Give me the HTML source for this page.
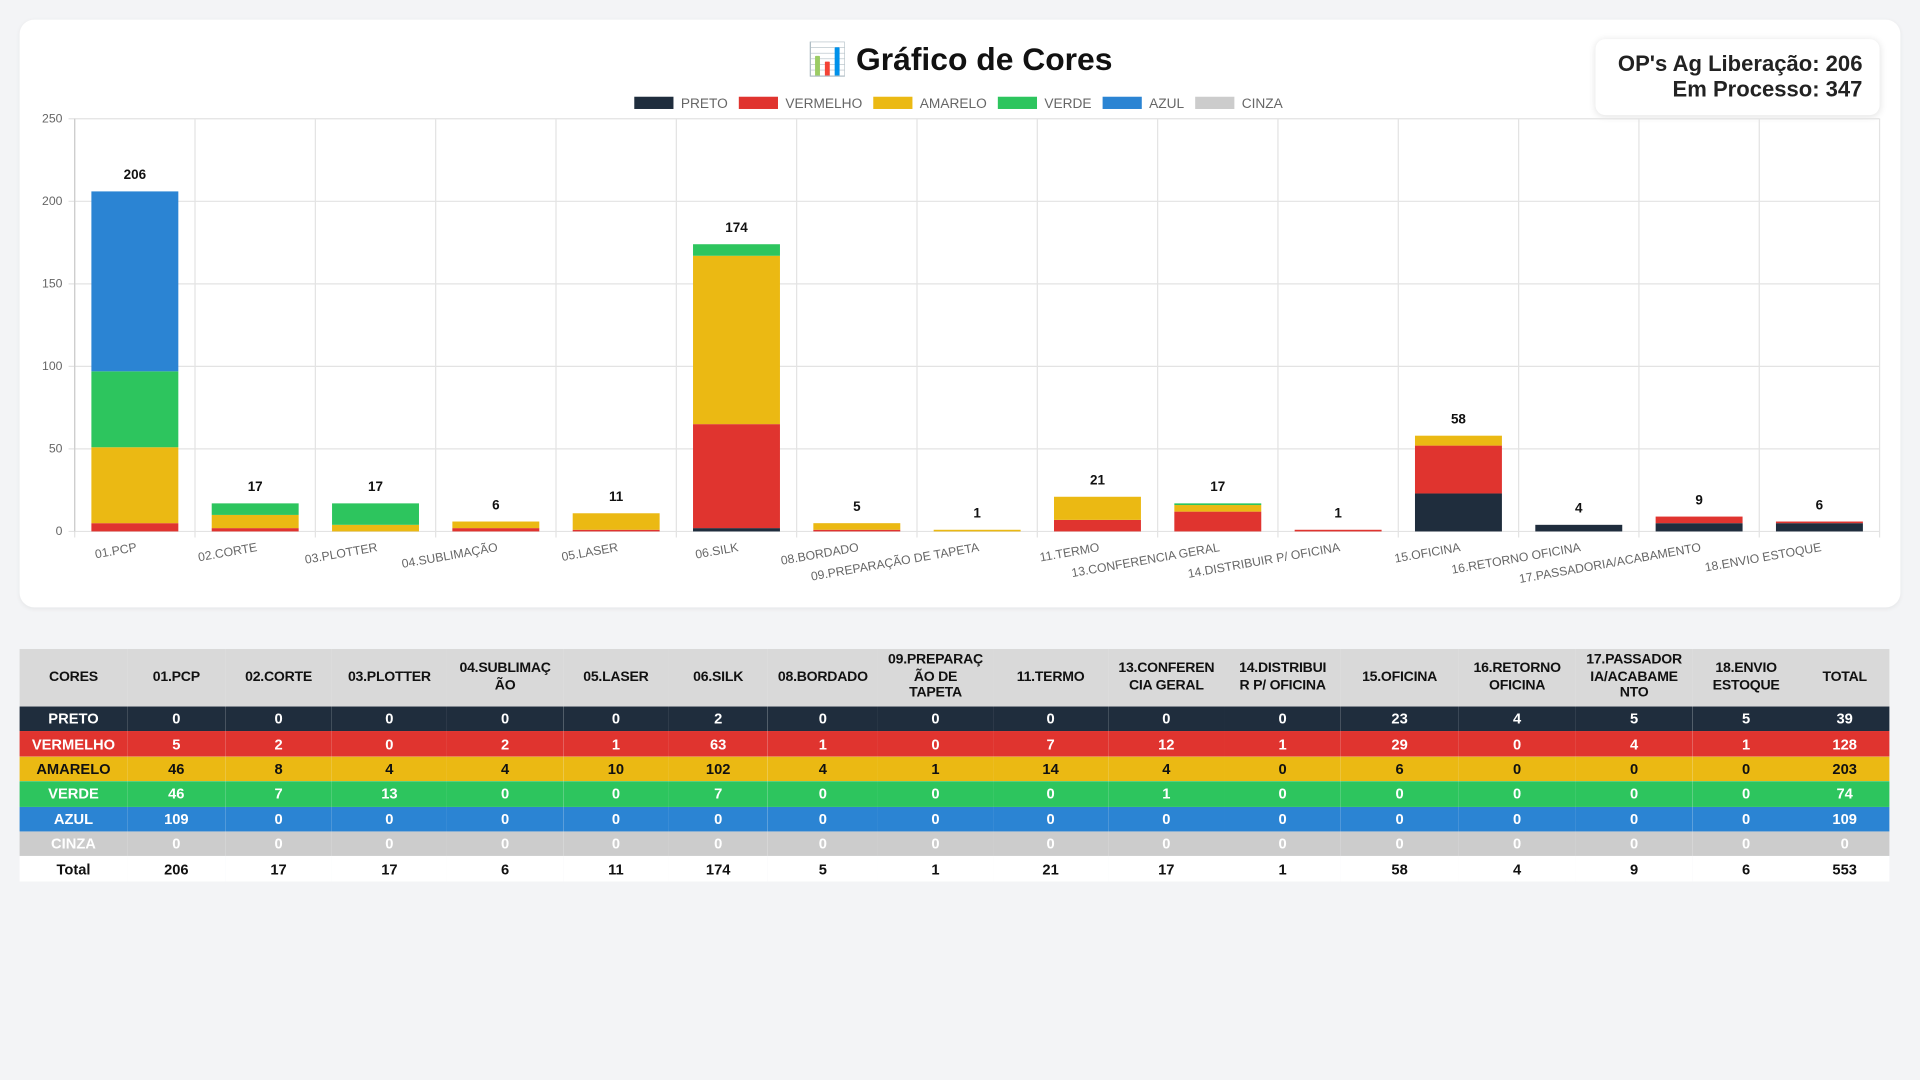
<!DOCTYPE html>
<html><head><meta charset="utf-8">
<style>
html,body{margin:0;padding:0;background:#f3f4f6;width:1920px;height:1080px;overflow:hidden;font-family:"Liberation Sans",sans-serif}
#root{position:absolute;left:0;top:0;width:1568px;height:882px;transform:scale(1.22449);transform-origin:0 0}
.card{position:absolute;left:16px;top:16px;width:1536px;height:480px;background:#fff;border-radius:12px;box-shadow:0 1px 4px rgba(0,0,0,0.06)}
.info{position:absolute;left:1303px;top:32px;width:218px;height:62px;padding-right:14px;background:#fff;border-radius:8px;box-shadow:0 1px 6px rgba(0,0,0,0.12);text-align:right;font-weight:bold;font-size:18px;line-height:21px;color:#222;box-sizing:content-box}
.info div:first-child{margin-top:10px}
table{position:absolute;left:16px;top:530px;width:1527px;border-collapse:collapse;table-layout:fixed;font-size:12px;font-weight:bold;text-align:center}
th{background:#d9d9d9;height:47px;padding:0;color:#111;font-size:11.5px;line-height:13.5px;white-space:nowrap;letter-spacing:-0.2px}
td{height:20.4px;padding:0;white-space:nowrap;overflow:hidden}
</style></head><body>
<div id="root">
<div class="card"></div>
<div class="info"><div>OP's Ag Liberação: 206</div><div>Em Processo: 347</div></div>
<svg id="chart" width="1568" height="500" style="position:absolute;left:0;top:0"></svg>
<table id="tbl"></table>
</div>
<script>
const categories=["01.PCP","02.CORTE","03.PLOTTER","04.SUBLIMAÇÃO","05.LASER","06.SILK","08.BORDADO","09.PREPARAÇÃO DE TAPETA","11.TERMO","13.CONFERENCIA GERAL","14.DISTRIBUIR P/ OFICINA","15.OFICINA","16.RETORNO OFICINA","17.PASSADORIA/ACABAMENTO","18.ENVIO ESTOQUE"];
const headerLines=["01.PCP","02.CORTE","03.PLOTTER","04.SUBLIMAÇ|ÃO","05.LASER","06.SILK","08.BORDADO","09.PREPARAÇ|ÃO DE|TAPETA","11.TERMO","13.CONFEREN|CIA GERAL","14.DISTRIBUI|R P/ OFICINA","15.OFICINA","16.RETORNO|OFICINA","17.PASSADOR|IA/ACABAME|NTO","18.ENVIO|ESTOQUE"];
const seriesNames=["PRETO","VERMELHO","AMARELO","VERDE","AZUL","CINZA"];
const seriesColors=["#1f2d3d","#e0342f","#ebb913","#2dc55e","#2b84d3","#cccccc"];
const preto=[0,0,0,0,0,2,0,0,0,0,0,23,4,5,5];
const vermelho=[5,2,0,2,1,63,1,0,7,12,1,29,0,4,1];
const amarelo=[46,8,4,4,10,102,4,1,14,4,0,6,0,0,0];
const verde=[46,7,13,0,0,7,0,0,0,1,0,0,0,0,0];
const azul=[109,0,0,0,0,0,0,0,0,0,0,0,0,0,0];
const cinza=[0,0,0,0,0,0,0,0,0,0,0,0,0,0,0];
const yTicks=[0,50,100,150,200,250];
const series=[preto,vermelho,amarelo,verde,azul,cinza];

const NS="http://www.w3.org/2000/svg";
const svg=document.getElementById('chart');
const X0=61,X1=1535,Y0=434,Y1=97,YMAX=250;
const bw=(X1-X0)/categories.length;
const y=v=>Y0-(v/YMAX)*(Y0-Y1);
const xc=i=>X0+bw*(i+0.5);
function el(t,a,txt){const e=document.createElementNS(NS,t);for(const k in a)e.setAttribute(k,a[k]);if(txt!==undefined)e.textContent=txt;svg.appendChild(e);return e;}
let t=el('text',{x:784,y:57,'text-anchor':'middle','font-size':26,'font-weight':'bold',fill:'#111'},'📊 Gráfico de Cores');


let lx=518;
seriesNames.forEach((n,i)=>{
  const r=el('rect',{x:lx,y:79,width:32,height:10,fill:seriesColors[i]});
  
  
  const tx=el('text',{x:lx+38,y:88,'font-size':11.2,fill:'#666'},n);
  
  
  lx+=38+tx.getComputedTextLength()+9;
});
yTicks.forEach(v=>{
  const l=el('line',{x1:X0-5,x2:X1,y1:y(v),y2:y(v),stroke:'#e3e3e3','stroke-width':1});
  
  
  const tx=el('text',{x:X0-10,y:y(v)+3,'text-anchor':'end','font-size':10,fill:'#666'},v);
  
  
});
for(let i=0;i<=categories.length;i++){
  const l=el('line',{x1:X0+bw*i,x2:X0+bw*i,y1:Y1,y2:Y0+5,stroke:'#e3e3e3','stroke-width':1});
  
  
}
categories.forEach((c,i)=>{
  let acc=0;
  series.forEach((s,k)=>{
    const v=s[i]; if(!v) return;
    const r=el('rect',{x:xc(i)-35.5,y:y(acc+v),width:71,height:y(acc)-y(acc+v),fill:seriesColors[k]});
    
    
    acc+=v;
  });
  const tl=el('text',{x:xc(i),y:y(acc)-10,'text-anchor':'middle','font-size':11,'font-weight':'bold',fill:'#111'},acc);
  
  
  const xl=el('text',{x:xc(i)+2,y:Y0+16,'text-anchor':'end','font-size':10,fill:'#666',transform:`rotate(-10 ${xc(i)+2} ${Y0+16})`},c);
  
  
});
const ax=el('line',{x1:X0,x2:X0,y1:Y1,y2:Y0,stroke:'#ccc'});



const tbl=document.getElementById('tbl');
const bounds=[16,104,184,271,365,460,546,627,717,811,905,1000,1095,1191,1287,1382,1470,1543];
let cg='<colgroup>';
for(let i=0;i<bounds.length-1;i++) cg+='<col style="width:'+(bounds[i+1]-bounds[i])+'px">';
cg+='</colgroup>';
const txtCol=["#fff","#fff","#111","#fff","#fff","#fff"];
let h=cg+'<tr><th>CORES</th>'+headerLines.map(x=>'<th>'+x.split('|').join('<br>')+'</th>').join('')+'<th>TOTAL</th></tr>';
series.forEach((s,k)=>{
  const tot=s.reduce((a,b)=>a+b,0);
  h+=`<tr style="background:${seriesColors[k]};color:${txtCol[k]}"><td>${seriesNames[k]}</td>`+s.map(v=>'<td>'+v+'</td>').join('')+'<td>'+tot+'</td></tr>';
});
let gt=0;
h+='<tr style="background:#fff;color:#111"><td>Total</td>'+categories.map((c,i)=>{const v=series.reduce((a,s)=>a+s[i],0);gt+=v;return '<td>'+v+'</td>';}).join('')+'<td>'+gt+'</td></tr>';
tbl.innerHTML=h;
</script>
</body></html>
